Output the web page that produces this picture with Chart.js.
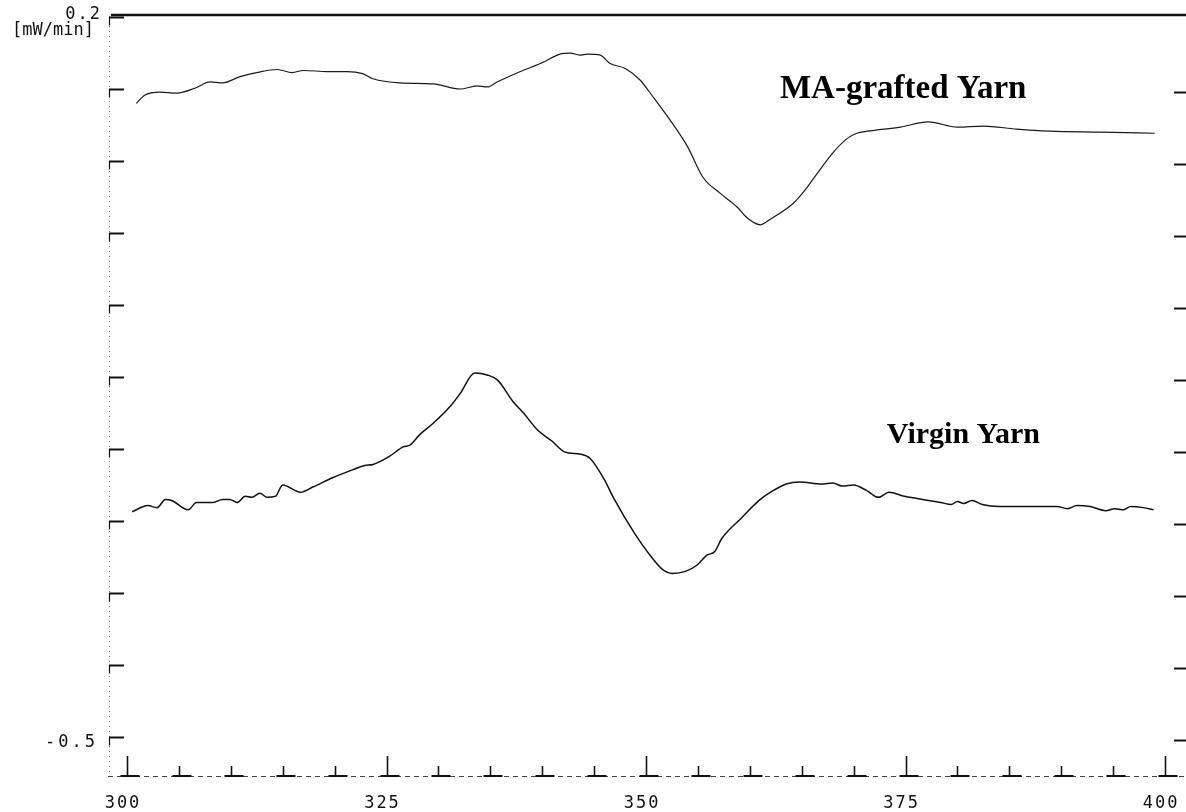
<!DOCTYPE html>
<html>
<head>
<meta charset="utf-8">
<script src="https://cdn.jsdelivr.net/npm/chart.js@4.4.1/dist/chart.umd.min.js"></script>
<style>
  html, body { margin: 0; padding: 0; background: #fff; }
  #dsc { display: block; }
</style>
</head>
<body>
<canvas id="dsc" width="1186" height="812"></canvas>
<script>
// MA-grafted yarn trace (temperature, heat flow)
const maTemp = [300.9, 301.7, 303.2, 304.8, 306.6, 308.0, 309.2, 310.9, 312.5, 314.5,
    315.9, 317.0, 319.3, 321.2, 322.7, 323.7, 326.3, 329.5, 332.1, 333.7,
    334.7, 335.7, 337.9, 340.1, 341.7, 342.7, 343.6, 344.4, 345.6, 346.5,
    348.0, 349.4, 350.7, 352.3, 354.0, 355.5, 357.1, 358.8, 359.7, 361.0,
    361.9, 364.2, 365.1, 366.5, 368.0, 369.4, 370.3, 371.3, 374.5, 377.2,
    380.0, 382.5, 385.7, 388.9, 393.7, 399.0];
const maHeat = [0.116, 0.124, 0.127, 0.126, 0.131, 0.137, 0.136, 0.142, 0.146, 0.149,
    0.146, 0.148, 0.147, 0.147, 0.145, 0.140, 0.136, 0.135, 0.130, 0.133,
    0.132, 0.137, 0.147, 0.156, 0.164, 0.165, 0.163, 0.164, 0.163, 0.155,
    0.150, 0.139, 0.122, 0.100, 0.074, 0.044, 0.029, 0.015, 0.005, -0.002,
    0.003, 0.019, 0.029, 0.048, 0.068, 0.082, 0.087, 0.089, 0.093, 0.098,
    0.093, 0.094, 0.091, 0.089, 0.088, 0.087];

// virgin yarn trace
const virginTemp = [300.5, 302.0, 302.9, 303.7, 304.3, 305.9, 306.7, 308.3, 309.2, 309.9,
    310.6, 311.4, 312.0, 312.8, 313.5, 314.3, 315.0, 316.7, 317.9, 319.8,
    321.8, 322.9, 323.7, 325.3, 326.6, 327.3, 328.2, 329.5, 331.1, 332.1,
    333.5, 334.7, 335.7, 337.2, 338.2, 339.5, 340.9, 342.2, 343.7, 344.6,
    346.0, 346.9, 348.9, 350.6, 351.7, 352.5, 353.8, 354.9, 355.9, 356.6,
    357.3, 359.2, 360.9, 362.0, 363.5, 364.8, 366.9, 368.0, 368.9, 370.0,
    371.2, 372.4, 373.4, 374.9, 377.2, 378.4, 379.4, 380.0, 380.6, 381.4,
    382.4, 384.0, 387.6, 389.6, 390.6, 391.5, 392.8, 394.3, 395.1, 396.0,
    396.7, 397.9, 398.9];
const virginHeat = [-0.281, -0.275, -0.277, -0.269, -0.270, -0.279, -0.272, -0.272, -0.269, -0.269,
    -0.272, -0.266, -0.267, -0.263, -0.267, -0.266, -0.255, -0.262, -0.257, -0.248,
    -0.240, -0.236, -0.235, -0.227, -0.218, -0.216, -0.206, -0.195, -0.179, -0.166,
    -0.146, -0.148, -0.153, -0.174, -0.185, -0.201, -0.212, -0.223, -0.225, -0.229,
    -0.250, -0.268, -0.302, -0.326, -0.338, -0.341, -0.339, -0.333, -0.323, -0.320,
    -0.307, -0.287, -0.270, -0.262, -0.254, -0.252, -0.254, -0.253, -0.256, -0.255,
    -0.260, -0.267, -0.262, -0.266, -0.270, -0.272, -0.274, -0.271, -0.273, -0.270,
    -0.274, -0.276, -0.276, -0.276, -0.278, -0.275, -0.276, -0.280, -0.278, -0.279,
    -0.276, -0.277, -0.279];

const xTicks = [300, 305, 310, 315, 320, 325, 330, 335, 340, 345, 350, 355, 360,
    365, 370, 375, 380, 385, 390, 395, 400];
const xLabels = [300, 325, 350, 375, 400];
const yTicks = [0.2, 0.13, 0.06, -0.01, -0.08, -0.15, -0.22, -0.29, -0.36, -0.43, -0.5];
const yLabels = ['0.2', '-0.5'];
const yUnit = '[mW/min]';
const curveNames = ['MA-grafted Yarn', 'Virgin Yarn'];

function pairs(xs, ys) {
    return xs.map(function (x, i) { return { x: x, y: ys[i] }; });
}

const frame = {
    id: 'frame',
    beforeDatasetsDraw(chart) {
        const ctx = chart.ctx;
        const xs = chart.scales.x, ys = chart.scales.y;
        const a = chart.chartArea;
        ctx.save();
        ctx.strokeStyle = '#111';

        // top border
        ctx.lineWidth = 2.5;
        ctx.beginPath();
        ctx.moveTo(a.left + 3, a.top - 1);
        ctx.lineTo(a.right, a.top - 1);
        ctx.stroke();

        // left axis, dotted
        ctx.lineWidth = 1;
        ctx.strokeStyle = '#777';
        ctx.setLineDash([1, 4]);
        ctx.beginPath();
        ctx.moveTo(a.left + 1.5, a.top);
        ctx.lineTo(a.left + 1.5, a.bottom);
        ctx.stroke();

        // bottom axis, dashed
        ctx.strokeStyle = '#444';
        ctx.setLineDash([5, 4]);
        ctx.beginPath();
        ctx.moveTo(a.left, a.bottom - 0.5);
        ctx.lineTo(a.right, a.bottom - 0.5);
        ctx.stroke();
        ctx.setLineDash([]);

        // y ticks, left and right
        ctx.strokeStyle = '#111';
        yTicks.forEach(function (v, i) {
            const y = Math.round(ys.getPixelForValue(v)) + 0.5;
            ctx.lineWidth = 2;
            ctx.beginPath();
            ctx.moveTo(a.left + 1, y);
            ctx.lineTo(a.left + 16, y);
            ctx.stroke();
            ctx.lineWidth = 1.2;
            ctx.beginPath();
            ctx.moveTo(a.left + 1.5, y);
            ctx.lineTo(a.left + 1.5, y + 8);
            ctx.stroke();
            if (i > 0) {
                ctx.lineWidth = 2;
                ctx.beginPath();
                ctx.moveTo(a.right - 12, y + 3);
                ctx.lineTo(a.right, y + 3);
                ctx.stroke();
            }
        });

        // x ticks rising from the base line
        xTicks.forEach(function (v) {
            const x = Math.round(xs.getPixelForValue(v)) + 0.5;
            const major = xLabels.indexOf(v) >= 0;
            ctx.lineWidth = 1.6;
            ctx.beginPath();
            ctx.moveTo(x, a.bottom);
            ctx.lineTo(x, a.bottom - (major ? 21 : 11));
            ctx.stroke();
            ctx.lineWidth = 2;
            ctx.beginPath();
            ctx.moveTo(x - 7, a.bottom - 1);
            ctx.lineTo(x + 12, a.bottom - 1);
            ctx.stroke();
        });

        // tick labels
        ctx.fillStyle = '#111';
        ctx.font = '17px "DejaVu Sans Mono"';
        if ('letterSpacing' in ctx) ctx.letterSpacing = '2px';
        ctx.textAlign = 'center';
        ctx.textBaseline = 'middle';
        xLabels.forEach(function (v) {
            ctx.fillText(String(v), xs.getPixelForValue(v) - 4, a.bottom + 27);
        });
        ctx.textAlign = 'right';
        ctx.fillText(yLabels[0], 102, ys.getPixelForValue(0.2) - 2);
        if ('letterSpacing' in ctx) ctx.letterSpacing = '0px';
        ctx.fillText(yUnit, 94, ys.getPixelForValue(0.2) + 14);
        if ('letterSpacing' in ctx) ctx.letterSpacing = '3px';
        ctx.fillText(yLabels[1], 98, ys.getPixelForValue(-0.5) + 6);
        ctx.restore();
    },
    afterDraw(chart) {
        const ctx = chart.ctx;
        const xs = chart.scales.x, ys = chart.scales.y;
        ctx.save();
        ctx.fillStyle = '#000';
        ctx.textAlign = 'left';
        ctx.textBaseline = 'middle';
        ctx.font = 'bold 33px "Liberation Serif"';
        ctx.fillText(curveNames[0], xs.getPixelForValue(362.9), ys.getPixelForValue(0.130));
        ctx.font = 'bold 30px "Liberation Serif"';
        ctx.fillText(curveNames[1], xs.getPixelForValue(373.2), ys.getPixelForValue(-0.207));
        ctx.restore();
    }
};

const config = {
    type: 'line',
    data: {
        datasets: [{
            label: curveNames[0],
            data: pairs(maTemp, maHeat),
            borderColor: '#1a1a1a',
            borderWidth: 1.2,
            cubicInterpolationMode: 'monotone'
        }, {
            label: curveNames[1],
            data: pairs(virginTemp, virginHeat),
            borderColor: '#111',
            borderWidth: 1.5,
            cubicInterpolationMode: 'monotone'
        }]
    },
    options: {
        responsive: false,
        animation: false,
        devicePixelRatio: 1,
        layout: { padding: { left: 108, right: 0, top: 16, bottom: 35 } },
        elements: { point: { radius: 0 } },
        plugins: { legend: { display: false }, tooltip: { enabled: false } },
        scales: {
            x: { type: 'linear', display: false, min: 298.17, max: 402.02 },
            y: { type: 'linear', display: false, min: -0.5389, max: 0.201 }
        }
    },
    plugins: [frame]
};

const dscChart = new Chart(document.getElementById('dsc'), config);
</script>
</body>
</html>
